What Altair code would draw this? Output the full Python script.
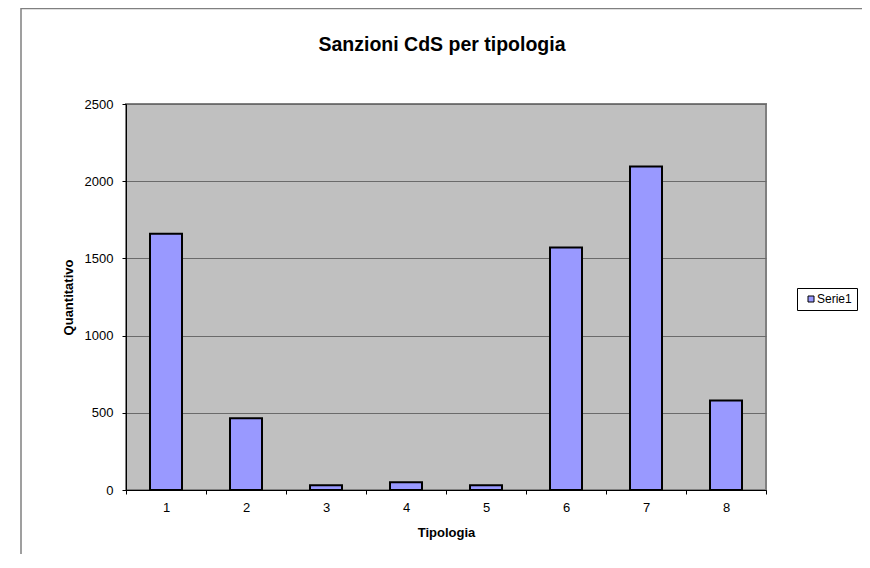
import altair as alt
import pandas as pd

categories = ["1", "2", "3", "4", "5", "6", "7", "8"]
values = [1660, 465, 30, 50, 30, 1570, 2095, 580]
series = ["Serie1"] * 8
y_ticks = [0, 500, 1000, 1500, 2000, 2500]

df = pd.DataFrame({"Tipologia": categories, "Quantitativo": values, "Serie": series})

FONT = "Liberation Sans"

bars = alt.Chart(df).mark_bar(
    width=alt.RelativeBandSize(0.4), stroke="black", strokeWidth=2
).encode(
    x=alt.X(
        "Tipologia:N",
        sort=categories,
        scale=alt.Scale(paddingInner=0, paddingOuter=0),
        axis=alt.Axis(
            title="Tipologia", labelAngle=0, tickBand="extent", tickSize=4,
            labelPadding=7, domainColor="black", tickColor="black",
            labelColor="black", labelFont=FONT, labelFontSize=13,
            titleFont=FONT, titleFontSize=13, titleFontWeight="bold",
            titleColor="black", titleX=320, titleY=42, titleBaseline="middle",
            grid=False,
        ),
    ),
    y=alt.Y(
        "Quantitativo:Q",
        scale=alt.Scale(domain=[0, 2500], nice=False),
        axis=alt.Axis(
            title="Quantitativo", values=y_ticks, format="d", tickSize=4,
            labelPadding=9, domainColor="black", tickColor="black",
            labelColor="black", labelFont=FONT, labelFontSize=13, grid=True,
            gridColor="#6a6a6a", gridWidth=1, titleFont=FONT, titleFontSize=13,
            titleFontWeight="bold", titleColor="black", titleX=-58, titleY=193,
            titleAngle=270, titleBaseline="middle", titleAlign="center",
        ),
    ),
    color=alt.Color(
        "Serie:N",
        scale=alt.Scale(range=["#9999FF"]),
        legend=alt.Legend(
            title=None, orient="none", legendX=671, legendY=184,
            strokeColor="black", fillColor="white", padding=5,
            symbolType="square", symbolSize=36, symbolStrokeColor="black",
            symbolStrokeWidth=1, symbolOffset=3, labelOffset=0,
            labelFont=FONT, labelFontSize=12, labelColor="black",
        ),
    ),
)

border = alt.Chart(pd.DataFrame({"k": [0]})).mark_rect(
    fill="white", fillOpacity=0, stroke="#808080", strokeWidth=1.5
).encode(
    x=alt.value(-105), x2=alt.value(800), y=alt.value(-95.5), y2=alt.value(520)
)

chart = alt.layer(border, bars).properties(
    width=640,
    height=386,
    autosize=alt.AutoSizeParams(type="none"),
    padding={"left": 118, "top": 96, "right": 96, "bottom": 64},
    title=alt.Title(
        "Sanzioni CdS per tipologia", font=FONT, fontSize=19.5, fontWeight="bold",
        anchor="middle", frame="group", offset=0, baseline="alphabetic",
        dy=63, dx=-4, color="black",
    ),
).configure_view(
    fill="#C0C0C0", stroke="#808080", strokeWidth=2
)

chart.save("out.html", embed_options={"renderer": "svg", "actions": False})
